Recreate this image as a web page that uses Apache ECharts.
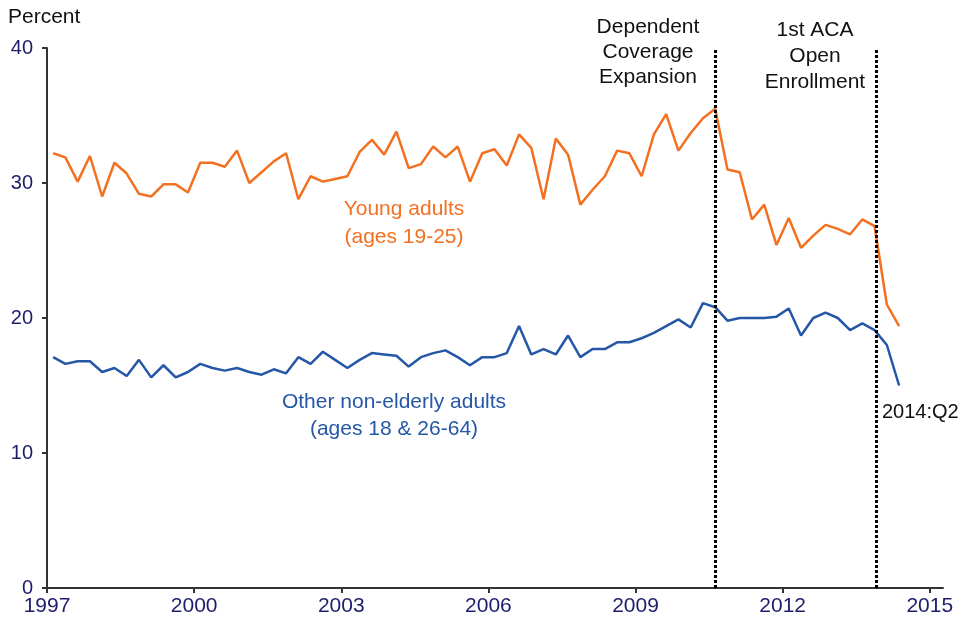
<!DOCTYPE html>
<html>
<head>
<meta charset="utf-8">
<script src="https://cdn.jsdelivr.net/npm/echarts@6/dist/echarts.min.js"></script>
<style>html,body{margin:0;padding:0;background:#fff;}#c{width:970px;height:624px;}</style>
</head>
<body>
<div id="c"></div>
<script>
// Quarterly uninsured rates, 1997:Q1 – 2014:Q2
const startYear = 1997;
const youngAdults = [32.2,31.9,30.1,32.0,29.0,31.5,30.7,29.2,29.0,29.9,29.9,29.3,31.5,31.5,31.2,32.4,30.0,30.8,31.6,32.2,
  28.8,30.5,30.1,30.3,30.5,32.3,33.2,32.1,33.8,31.1,31.4,32.7,31.9,32.7,30.1,32.2,32.5,31.3,33.6,32.6,
  28.8,33.3,32.1,28.4,29.5,30.5,32.4,32.2,30.5,33.6,35.1,32.4,33.7,34.8,35.5,31.0,30.8,27.3,28.4,25.4,
  27.4,25.2,26.1,26.9,26.6,26.2,27.3,26.8,21.0,19.4];
const otherAdults = [17.1,16.6,16.8,16.8,16.0,16.3,15.7,16.9,15.6,16.5,15.6,16.0,16.6,16.3,16.1,16.3,16.0,15.8,16.2,15.9,
  17.1,16.6,17.5,16.9,16.3,16.9,17.4,17.3,17.2,16.4,17.1,17.4,17.6,17.1,16.5,17.1,17.1,17.4,19.4,17.3,
  17.7,17.3,18.7,17.1,17.7,17.7,18.2,18.2,18.5,18.9,19.4,19.9,19.3,21.1,20.8,19.8,20.0,20.0,20.0,20.1,
  20.7,18.7,20.0,20.4,20.0,19.1,19.6,19.1,18.0,15.0];
const xTickLabels = [1997, 2000, 2003, 2006, 2009, 2012, 2015];
const yTickLabels = [0, 10, 20, 30, 40];
const policyEvents = [2010.625, 2013.9]; // Dependent Coverage Expansion, 1st ACA Open Enrollment

// quarter midpoints
const quarterPos = youngAdults.map((_, i) => startYear + Math.floor(i / 4) + ((i % 4) + 0.5) / 4);
const youngData = youngAdults.map((v, i) => [quarterPos[i], v]);
const otherData = otherAdults.map((v, i) => [quarterPos[i], v]);

const FONT = '"Liberation Sans", Arial, sans-serif';
const NAVY = '#1d1d6b';
const ORANGE = '#F37021';
const BLUE = '#2557A6';

function txt(x, y, text, color, size, lh, align) {
  return {type: 'text', x: x, y: y, z: 10,
    style: {text: text, fill: color, font: size + 'px ' + FONT, textAlign: align || 'center',
      textVerticalAlign: 'top', lineHeight: lh}};
}

const chart = echarts.init(document.getElementById('c'), null, {renderer: 'canvas'});
chart.setOption({
  animation: false,
  backgroundColor: '#fff',
  grid: {left: 47, right: 27, top: 48, bottom: 36, containLabel: false},
  xAxis: {
    type: 'value', min: 1997, max: 2015.27,
    axisLine: {show: true, lineStyle: {color: '#333', width: 2}},
    axisTick: {show: true, length: 5, lineStyle: {color: '#333', width: 2}, customValues: xTickLabels},
    axisLabel: {color: NAVY, fontFamily: FONT, fontSize: 21, margin: 8, customValues: xTickLabels,
      formatter: v => String(Math.round(v))},
    splitLine: {show: false}
  },
  yAxis: {
    type: 'value', min: 0, max: 40, interval: 10,
    axisLine: {show: true, lineStyle: {color: '#333', width: 2}},
    axisTick: {show: true, length: 5, lineStyle: {color: '#333', width: 2}, customValues: yTickLabels},
    axisLabel: {color: NAVY, fontFamily: FONT, fontSize: 20, margin: 14, customValues: yTickLabels},
    splitLine: {show: false}
  },
  series: [
    {
      type: 'line', name: 'Young adults', data: youngData, showSymbol: false, symbol: 'none',
      lineStyle: {color: ORANGE, width: 2.5}, itemStyle: {color: ORANGE}, z: 3,
      markLine: {
        silent: true, symbol: 'none',
        lineStyle: {color: '#000', width: 3, type: [3, 2]},
        label: {show: false},
        data: policyEvents.map(x => ({xAxis: x}))
      }
    },
    {
      type: 'line', name: 'Other non-elderly adults', data: otherData, showSymbol: false, symbol: 'none',
      lineStyle: {color: BLUE, width: 2.5}, itemStyle: {color: BLUE}, z: 3
    }
  ],
  graphic: [
    txt(8, 6, 'Percent', '#111', 21, 22, 'left'),
    txt(648, 15, 'Dependent\nCoverage\nExpansion', '#111', 21, 25),
    txt(815, 17, '1st ACA\nOpen\nEnrollment', '#111', 21, 26),
    txt(882, 401, '2014:Q2', '#111', 20, 22, 'left'),
    txt(404, 195, 'Young adults\n(ages 19-25)', ORANGE, 21, 28),
    txt(394, 389, 'Other non-elderly adults\n(ages 18 & 26-64)', BLUE, 21, 27)
  ]
});
</script>
</body>
</html>
